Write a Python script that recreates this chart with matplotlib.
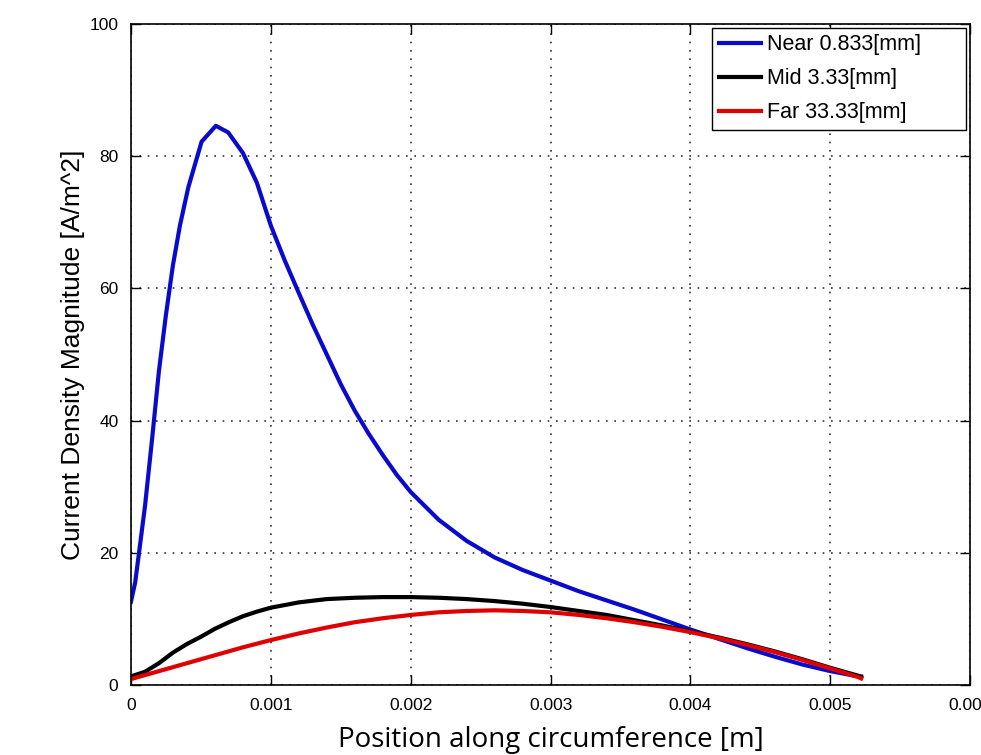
import numpy as np
import matplotlib.pyplot as plt

# current density along the circumference
near_x = [0, 0.00003, 0.00006, 0.0001, 0.00015, 0.0002, 0.00025, 0.0003, 0.00035,
          0.00041, 0.000505, 0.000607, 0.000695, 0.0008, 0.0009, 0.001, 0.0011,
          0.0012, 0.0013, 0.0014, 0.0015, 0.0016, 0.0017, 0.0018, 0.0019, 0.002,
          0.0022, 0.0024, 0.0026, 0.0028, 0.003, 0.0032, 0.0034, 0.0036, 0.0038,
          0.004, 0.0042, 0.0044, 0.0046, 0.0048, 0.005, 0.0052, 0.00522]
near_y = [12.6, 15.5, 20.4, 27.0, 37.0, 47.5, 56.0, 63.5, 69.5,
          75.3, 82.2, 84.6, 83.6, 80.5, 76.0, 69.5, 64.2,
          59.3, 54.5, 50.0, 45.5, 41.5, 38.0, 34.8, 31.8, 29.2,
          25.0, 21.8, 19.3, 17.4, 15.8, 14.2, 12.8, 11.4, 9.9,
          8.4, 7.0, 5.6, 4.3, 3.1, 2.1, 1.3, 1.3]

mid_x = [0, 0.0001, 0.0002, 0.0003, 0.0004, 0.0005, 0.0006, 0.0007, 0.0008, 0.0009,
         0.001, 0.0012, 0.0014, 0.0016, 0.0018, 0.002, 0.0022, 0.0024, 0.0026,
         0.0028, 0.003, 0.0032, 0.0034, 0.0036, 0.0038, 0.004, 0.0042, 0.0044,
         0.0046, 0.0048, 0.005, 0.0052, 0.00522]
mid_y = [1.3, 2.0, 3.3, 4.9, 6.2, 7.3, 8.5, 9.5, 10.4, 11.1,
         11.7, 12.5, 13.0, 13.2, 13.3, 13.3, 13.2, 13.0, 12.7,
         12.3, 11.8, 11.2, 10.6, 9.8, 9.0, 8.1, 7.2, 6.2,
         5.1, 3.9, 2.6, 1.4, 1.2]

far_x = [0, 0.0002, 0.0004, 0.0006, 0.0008, 0.001, 0.0012, 0.0014, 0.0016, 0.0018,
         0.002, 0.0022, 0.0024, 0.0026, 0.0028, 0.003, 0.0032, 0.0034, 0.0036,
         0.0038, 0.004, 0.0042, 0.0044, 0.0046, 0.0048, 0.005, 0.0052, 0.00522]
far_y = [0.9, 2.1, 3.3, 4.5, 5.7, 6.8, 7.8, 8.7, 9.5, 10.1,
         10.6, 11.0, 11.2, 11.3, 11.2, 11.0, 10.6, 10.1, 9.5,
         8.8, 8.0, 7.1, 6.1, 5.0, 3.8, 2.5, 1.2, 1.0]

labels = ['Near 0.833[mm]', 'Mid 3.33[mm]', 'Far 33.33[mm]']
xticks = [0, 0.001, 0.002, 0.003, 0.004, 0.005, 0.006]
xtick_labels = ['0', '0.001', '0.002', '0.003', '0.004', '0.005', '0.006']
yticks = [0, 20, 40, 60, 80, 100]

plt.rcParams['font.family'] = ['Liberation Sans', 'DejaVu Sans']

fig = plt.figure(figsize=(9.81, 7.55), dpi=100)
ax = fig.add_axes([0.1335, 0.0927, 0.8555, 0.8755])

ax.plot(near_x, near_y, color='#0a0acc', lw=3, label=labels[0])
ax.plot(mid_x, mid_y, color='black', lw=3, label=labels[1])
ax.plot(far_x, far_y, color='#e00000', lw=3, label=labels[2])

ax.set_xlim(0, 0.006)
ax.set_ylim(0, 100)
ax.set_xticks(xticks)
ax.set_xticklabels(xtick_labels)
ax.set_yticks(yticks)
ax.tick_params(direction='in', length=7, width=1, top=True, right=True,
               labelsize=12.5, pad=9)
ax.grid(True, color='0.2', linestyle=(0, (1, 4)), linewidth=1.2)
for s in ax.spines.values():
    s.set_linewidth(1.2)

ax.set_ylabel('Current Density Magnitude [A/m^2]', fontsize=19, labelpad=3)
ax.set_xlabel('Position along circumference [m]', fontsize=20,
              family=['Open Sans', 'DejaVu Sans'], labelpad=10)

# legend box stretched to the same width as in the original
leg = ax.legend(loc='upper right', bbox_to_anchor=(0.6925, 0.8487, 0.3027, 0.1453),
                mode='expand', fontsize=15.5, frameon=True, fancybox=False,
                edgecolor='black', framealpha=1, borderaxespad=0,
                borderpad=0.3, handlelength=1.95, handletextpad=0.3,
                labelspacing=0.6)
leg.get_frame().set_linewidth(1)

fig.savefig('out.png', dpi=100)
